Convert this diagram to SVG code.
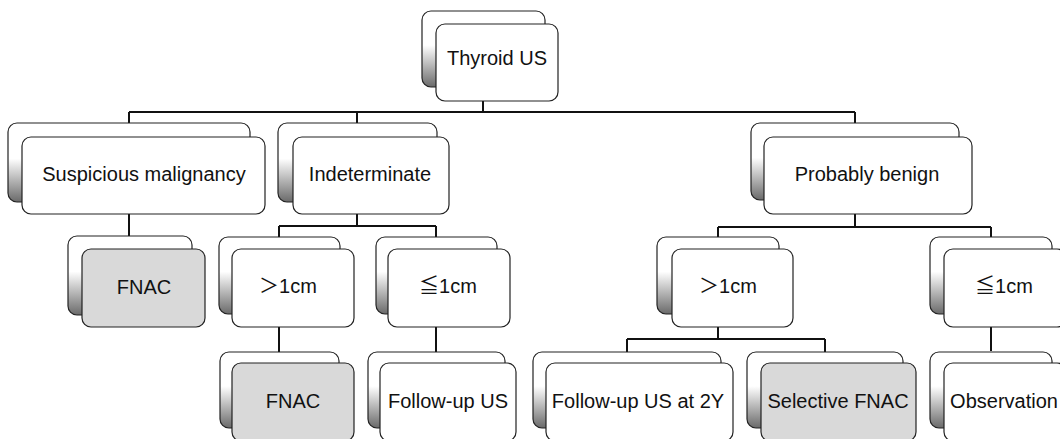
<svg xmlns="http://www.w3.org/2000/svg" width="1060" height="439" viewBox="0 0 1060 439">
<defs>
<linearGradient id="sh" x1="0" y1="0" x2="0" y2="1">
<stop offset="0" stop-color="#ffffff"/>
<stop offset="0.45" stop-color="#ffffff"/>
<stop offset="1" stop-color="#6a6a6a"/>
</linearGradient>
<style>
.back{fill:url(#sh);stroke:#222;stroke-width:1.2}
.front{fill:#ffffff;stroke:#222;stroke-width:1.2}
.hl{fill:#d9d9d9}
.lbl{font-family:"Liberation Sans",Arial,"Noto Sans CJK JP",sans-serif;font-size:20px;fill:#111;text-anchor:middle}
.conn{fill:none;stroke:#111;stroke-width:2}
</style>
</defs>
<rect width="1060" height="439" fill="#ffffff"/>
<g id="connectors" class="conn">
<path d="M483,101V112M129,112H855M129,112V123M357,112V123M855,112V123"/>
<path d="M129,214V236"/>
<path d="M357,214V226M279,226H436M279,226V237M436,226V237"/>
<path d="M279,327V352M436,327V352"/>
<path d="M855,214V227M718,227H991M718,227V237M991,227V237"/>
<path d="M718,327V339M627,339H825M627,339V352M825,339V352"/>
<path d="M991,327V351"/>
</g>
<g id="n-thyroid"><rect class="back" x="422" y="11" width="123" height="76" rx="9"/><rect class="front" x="436" y="24" width="122" height="77" rx="9"/><text class="lbl" x="497" y="65">Thyroid US</text></g>
<g id="n-suspicious"><rect class="back" x="8" y="123" width="242" height="79" rx="9"/><rect class="front" x="22" y="137" width="243" height="77" rx="9"/><text class="lbl" x="144" y="181">Suspicious malignancy</text></g>
<g id="n-indeterminate"><rect class="back" x="278" y="123" width="159" height="79" rx="9"/><rect class="front" x="293" y="137" width="156" height="77" rx="9"/><text class="lbl" x="370" y="181">Indeterminate</text></g>
<g id="n-benign"><rect class="back" x="751" y="123" width="208" height="77" rx="9"/><rect class="front" x="764" y="137" width="208" height="77" rx="9"/><text class="lbl" x="867" y="181">Probably benign</text></g>
<g id="n-fnac1"><rect class="back" x="68" y="236" width="124" height="79" rx="9"/><rect class="front hl" x="82" y="249" width="123" height="78" rx="9"/><text class="lbl" x="144" y="294">FNAC</text></g>
<g id="n-ind-gt"><rect class="back" x="219" y="237" width="121" height="77" rx="9"/><rect class="front" x="232" y="249" width="122" height="78" rx="9"/><text class="lbl" x="288" y="293">＞1cm</text></g>
<g id="n-ind-le"><rect class="back" x="376" y="237" width="121" height="77" rx="9"/><rect class="front" x="388" y="249" width="122" height="78" rx="9"/><text class="lbl" x="448" y="293">≦1cm</text></g>
<g id="n-fnac2"><rect class="back" x="220" y="352" width="119" height="76" rx="9"/><rect class="front hl" x="232" y="363" width="122" height="78" rx="9"/><text class="lbl" x="293" y="408">FNAC</text></g>
<g id="n-followup"><rect class="back" x="368" y="352" width="137" height="76" rx="9"/><rect class="front" x="380" y="363" width="136" height="78" rx="9"/><text class="lbl" x="448" y="408">Follow-up US</text></g>
<g id="n-ben-gt"><rect class="back" x="657" y="237" width="122" height="77" rx="9"/><rect class="front" x="672" y="249" width="121" height="78" rx="9"/><text class="lbl" x="728" y="293">＞1cm</text></g>
<g id="n-ben-le"><rect class="back" x="930" y="237" width="122" height="77" rx="9"/><rect class="front" x="944" y="249" width="122" height="78" rx="9"/><text class="lbl" x="1004" y="293">≦1cm</text></g>
<g id="n-followup2y"><rect class="back" x="533" y="352" width="188" height="76" rx="9"/><rect class="front" x="546" y="363" width="187" height="78" rx="9"/><text class="lbl" x="638" y="408">Follow-up US at 2Y</text></g>
<g id="n-selective"><rect class="back" x="747" y="352" width="156" height="76" rx="9"/><rect class="front hl" x="761" y="363" width="155" height="78" rx="9"/><text class="lbl" x="838" y="408">Selective FNAC</text></g>
<g id="n-observation"><rect class="back" x="930" y="352" width="122" height="76" rx="9"/><rect class="front" x="944" y="363" width="122" height="78" rx="9"/><text class="lbl" x="1004" y="408">Observation</text></g>
</svg>
